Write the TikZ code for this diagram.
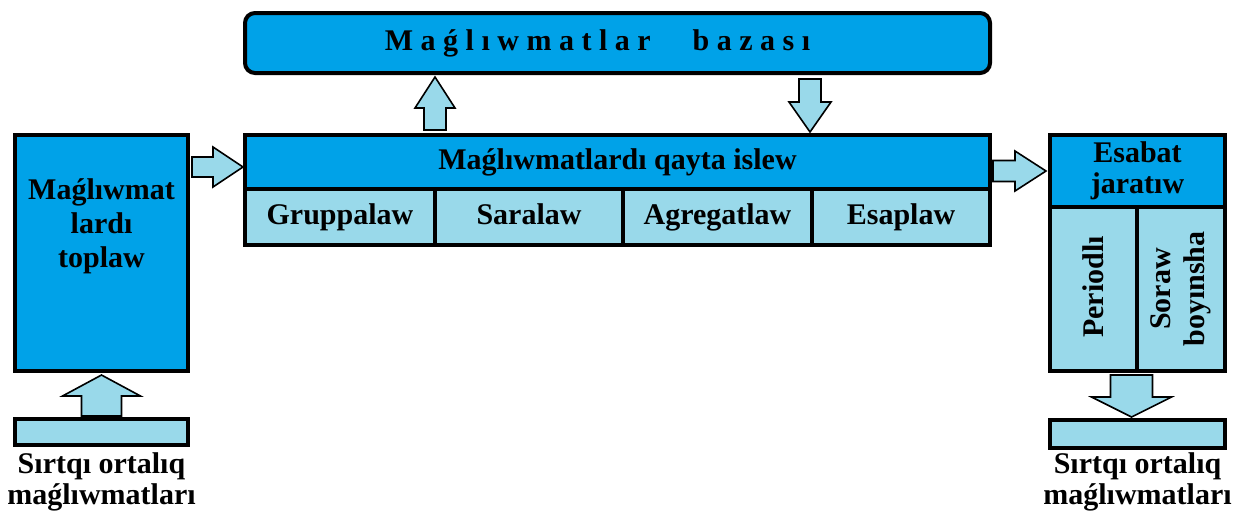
\documentclass[tikz,border=0pt]{standalone}
\usepackage{fontspec}
\setmainfont{Liberation Serif}
\usetikzlibrary{calc}
\definecolor{darkblu}{HTML}{00A2E8}
\definecolor{lightblu}{HTML}{99D9EA}
\tikzset{
  txt/.style={font=\fontsize{15}{17}\selectfont\bfseries},
  box/.style={draw=black, line width=2pt, outer sep=0pt, inner sep=1pt, txt},
  darkbox/.style={box, fill=darkblu},
  lightbox/.style={box, fill=lightblu},
  celltxt/.style={text height=10.5pt, text depth=3.5pt},
  arrowbody/.style={fill=lightblu, draw=black, line width=0.8pt, line join=miter}
}
% fat block arrow: half shaft, half head, head length, from, to
\newcommand{\fatarrow}[5]{%
  \path (#4) coordinate (fa-s) (#5) coordinate (fa-e)
        ($(fa-e)!#3!(fa-s)$) coordinate (fa-h);
  \filldraw[arrowbody] ($(fa-s)!#1!90:(fa-e)$) -- ($(fa-h)!#1!90:(fa-e)$)
    -- ($(fa-h)!#2!90:(fa-e)$) -- (fa-e) -- ($(fa-h)!#2!-90:(fa-e)$)
    -- ($(fa-h)!#1!-90:(fa-e)$) -- ($(fa-s)!#1!-90:(fa-e)$) -- cycle;}
\begin{document}
\begin{tikzpicture}[x=0.5pt, y=-0.5pt]
    \useasboundingbox (0,0) rectangle (1240,511);
    % top: data base
    \node[darkbox, celltxt, rounded corners=5pt, minimum width=372.5pt, minimum height=30pt, anchor=north west] (baza) at (245,13)
        {M a ǵ l ı w m a t l a r\hspace{21pt}b a z a s ı\kern20pt};
    % middle: processing
    \node[darkbox, celltxt, minimum width=372.5pt, minimum height=27pt, anchor=north west] (islew) at (245,135) {Maǵlıwmatlardı qayta islew};
    \node[lightbox, celltxt, minimum width=95pt, minimum height=28pt, anchor=north west] (gruppa) at (islew.south west) {Gruppalaw};
    \node[lightbox, celltxt, minimum width=94pt, minimum height=28pt, anchor=north west] (sara) at (gruppa.north east) {Saralaw};
    \node[lightbox, celltxt, minimum width=94.5pt, minimum height=28pt, anchor=north west] (agreg) at (sara.north east) {Agregatlaw};
    \node[lightbox, celltxt, minimum width=89pt, minimum height=28pt, anchor=north west] (esap) at (agreg.north east) {Esaplaw};
    % left: collecting
    \node[darkbox, minimum width=86.5pt, minimum height=118pt, anchor=north west] (toplaw) at (15,135) {};
    \node[txt, align=center] (toplawtxt) at ([yshift=-45.5pt]toplaw.north) {Maǵlıwmat\\lardı\\toplaw};
    \node[lightbox, minimum width=86.5pt, minimum height=13pt, anchor=north west] (leftbar) at (15,419) {};
    \node[txt, align=center, font=\fontsize{15}{15.5}\selectfont\bfseries] (lefttxt) at ([yshift=-18.5pt]leftbar.south) {Sırtqı ortalıq\\maǵlıwmatları};
    % right: reports
    \node[darkbox, align=center, font=\fontsize{15}{15.5}\selectfont\bfseries, minimum width=87.5pt, minimum height=36pt, anchor=north west] (esabat) at (1050,135) {Esabat\\jaratıw};
    \node[lightbox, minimum width=43.5pt, minimum height=82pt, anchor=north west] (periodli) at (esabat.south west) {};
    \node[lightbox, minimum width=44pt, minimum height=82pt, anchor=north west] (soraw) at (periodli.north east) {};
    \node[txt, rotate=90] (periodlitxt) at ([yshift=1pt]periodli.center) {Periodlı};
    \node[txt, rotate=90, align=center] (sorawtxt) at (soraw.center) {Soraw\\boyınsha};
    \node[lightbox, minimum width=87.5pt, minimum height=14pt, anchor=north west] (rightbar) at (1050,420) {};
    \node[txt, align=center, font=\fontsize{15}{15.5}\selectfont\bfseries] (righttxt) at ([yshift=-17pt]rightbar.south) {Sırtqı ortalıq\\maǵlıwmatları};
    % arrows
    \fatarrow{5pt}{10pt}{15pt}{$(toplaw.east |- islew.west)+(2pt,-2.5pt)$}{$(islew.west)+(-1pt,-2.5pt)$}
    \fatarrow{5.5pt}{10pt}{15.5pt}{$(gruppa.east |- islew.north)+(0,2.5pt)$}{$(gruppa.east |- baza.south)+(0,-2pt)$}
    \fatarrow{5.5pt}{10.5pt}{15pt}{$(esap.west |- baza.south)+(-1pt,-3pt)$}{$(esap.west |- islew.north)+(-1pt,1.5pt)$}
    \fatarrow{5.25pt}{10pt}{15.5pt}{$(islew.east |- esabat.west)+(1.5pt,0)$}{$(esabat.west)+(-2pt,0)$}
    \fatarrow{10pt}{19.5pt}{10.5pt}{$(leftbar.north)+(0,1.5pt)$}{$(toplaw.south)+(0,-2pt)$}
    \fatarrow{10.5pt}{20pt}{10pt}{$(rightbar.north |- soraw.south)+(-3pt,-2pt)$}{$(rightbar.north)+(-3pt,1.5pt)$}
\end{tikzpicture}
\end{document}
